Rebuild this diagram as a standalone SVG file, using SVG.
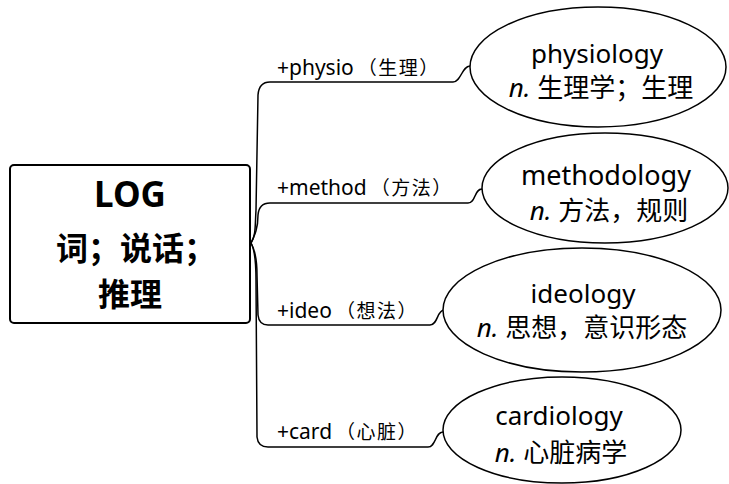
<svg xmlns="http://www.w3.org/2000/svg" width="729" height="484" viewBox="0 0 729 484">
<style>
.bg{fill:#fff}
.box{fill:#fff;stroke:#000;stroke-width:2}
.ell{fill:#fff;stroke:#000;stroke-width:1.5}
.con{fill:none;stroke:#000;stroke-width:1.5}
.t{font-family:"Noto Sans","Noto Sans CJK SC",sans-serif;fill:#000}
.main{font-size:32px;font-weight:bold;text-anchor:middle}
.big{font-size:35px}
.lbl{font-size:21px}
.cj{font-size:19px;letter-spacing:1.5px}
.w{font-size:26px;text-anchor:middle}
.it{font-style:italic}
</style>
<rect class="bg" x="0" y="0" width="729" height="484"/>
<g id="connectors">
<path class="con" d="M251,243 C256,236 255,225 256,210 L258,95 Q259,82 270,82 L453,82 C461,82 462,66 470,66"/>
<path class="con" d="M251,243 C255,235 258,228 258,215 Q259,203 270,203 L468,203 C476,203 474,189 482,189"/>
<path class="con" d="M251,243 C255,250 257,260 257,275 L258,315 Q259,325 268,325 L430,325 C438,325 437,310 444,310"/>
<path class="con" d="M251,243 C255,250 256,262 256,280 L257,437 Q258,447 268,447 L428,447 C436,447 435,432 443,432"/>
<text class="t lbl" x="277" y="75">+physio<tspan class="cj" dx="4">（生理）</tspan></text>
<text class="t lbl" x="277" y="195">+method<tspan class="cj" dx="4">（方法）</tspan></text>
<text class="t lbl" x="277" y="318">+ideo<tspan class="cj" dx="4">（想法）</tspan></text>
<text class="t lbl" x="277" y="439">+card<tspan class="cj" dx="4">（心脏）</tspan></text>
</g>
<g id="root">
<rect class="box" x="10" y="165" width="240" height="158" rx="4"/>
<text class="t main big" x="130" y="207">LOG</text>
<text class="t main" x="136" y="260">词；说话；</text>
<text class="t main" x="130" y="306">推理</text>
</g>
<g id="physiology">
<ellipse class="ell" cx="598" cy="67" rx="128" ry="60"/>
<text class="t w" x="597" y="63">physiology</text>
<text class="t w" x="601" y="97"><tspan class="it">n.</tspan> 生理学；生理</text>
</g>
<g id="methodology">
<ellipse class="ell" cx="605" cy="188" rx="123" ry="55"/>
<text class="t w" x="606" y="185" style="font-size:27px">methodology</text>
<text class="t w" x="609" y="220"><tspan class="it">n.</tspan> 方法，规则</text>
</g>
<g id="ideology">
<ellipse class="ell" cx="582" cy="310" rx="139" ry="62"/>
<text class="t w" x="583" y="303">ideology</text>
<text class="t w" x="582" y="337"><tspan class="it">n.</tspan> 思想，意识形态</text>
</g>
<g id="cardiology">
<ellipse class="ell" cx="562" cy="430" rx="119" ry="53"/>
<text class="t w" x="559" y="425">cardiology</text>
<text class="t w" x="561" y="462"><tspan class="it">n.</tspan> 心脏病学</text>
</g>
</svg>
